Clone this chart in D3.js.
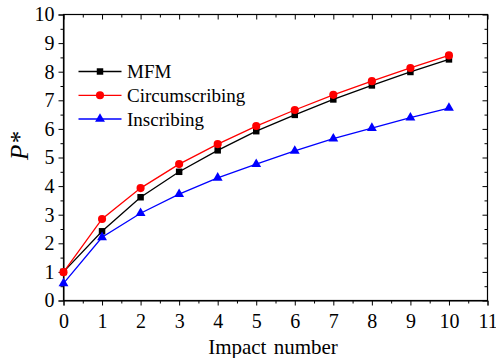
<!DOCTYPE html>
<html>
<head>
<meta charset="utf-8">
<script src="https://cdn.jsdelivr.net/npm/d3@7"></script>
<style>
  body { margin: 0; background: #fff; }
</style>
</head>
<body>
<div id="chart"></div>
<script>
"use strict";

// data
let impacts = [0, 1, 2, 3, 4, 5, 6, 7, 8, 9, 10];
let mfm = [1.0, 2.42, 3.61, 4.5, 5.25, 5.92, 6.49, 7.03, 7.52, 7.99, 8.43];
let circ = [0.99, 2.85, 3.93, 4.77, 5.47, 6.1, 6.66, 7.19, 7.67, 8.13, 8.57];
let insc = [0.6, 2.21, 3.05, 3.72, 4.29, 4.77, 5.23, 5.66, 6.03, 6.39, 6.73];
let xTicks = [0, 1, 2, 3, 4, 5, 6, 7, 8, 9, 10, 11];
let yTicks = [0, 1, 2, 3, 4, 5, 6, 7, 8, 9, 10];

let series = [
  { name: "MFM", values: mfm, color: "#000000", shape: d3.symbolSquare, size: 42 },
  { name: "Circumscribing", values: circ, color: "#ff0000", shape: d3.symbolCircle, size: 52 },
  { name: "Inscribing", values: insc, color: "#0000ff", shape: d3.symbolTriangle, size: 42 }
];

let serif = "'Liberation Serif', 'Times New Roman', Times, serif";
let width = 496;
let height = 358;
let mLeft = 63.5, mRight = 487.5, mTop = 14.5, mBottom = 300.5;

let svg = d3.select("#chart")
  .append("svg")
  .attr("width", width)
  .attr("height", height);

let x = d3.scaleLinear().domain([0, 11]).range([mLeft, mRight]);
let y = d3.scaleLinear().domain([0, 10]).range([mBottom, mTop]);

let half = d3.range(0.5, 11, 1);
let halfY = d3.range(0.5, 10, 1);

function styleLabels(g) {
  g.attr("font-family", null);
  g.selectAll("text")
    .style("font-family", serif)
    .style("font-size", "20px")
    .attr("fill", "#000");
}

// bottom axis, ticks outward
svg.append("g")
  .attr("transform", `translate(0,${mBottom})`)
  .call(d3.axisBottom(x).tickValues(half).tickSize(3).tickFormat(""))
  .call(g => g.select(".domain").remove());
svg.append("g")
  .attr("transform", `translate(0,${mBottom})`)
  .call(d3.axisBottom(x).tickValues(xTicks).tickSize(5).tickPadding(8).tickFormat(d3.format("d")))
  .call(styleLabels);

// left axis, ticks outward
svg.append("g")
  .attr("transform", `translate(${mLeft},0)`)
  .call(d3.axisLeft(y).tickValues(halfY).tickSize(3).tickFormat(""))
  .call(g => g.select(".domain").remove());
svg.append("g")
  .attr("transform", `translate(${mLeft},0)`)
  .call(d3.axisLeft(y).tickValues(yTicks).tickSize(5).tickPadding(4).tickFormat(d3.format("d")))
  .call(styleLabels);

// top and right axes, ticks inward, no labels
svg.append("g")
  .attr("transform", `translate(0,${mTop})`)
  .call(d3.axisBottom(x).tickValues(xTicks).tickSize(5).tickFormat(""))
  .call(g => g.select(".domain").remove());
svg.append("g")
  .attr("transform", `translate(0,${mTop})`)
  .call(d3.axisBottom(x).tickValues(half).tickSize(3).tickFormat(""))
  .call(g => g.select(".domain").remove());
svg.append("g")
  .attr("transform", `translate(${mRight},0)`)
  .call(d3.axisLeft(y).tickValues(yTicks).tickSize(5).tickFormat(""))
  .call(g => g.select(".domain").remove());
svg.append("g")
  .attr("transform", `translate(${mRight},0)`)
  .call(d3.axisLeft(y).tickValues(halfY).tickSize(3).tickFormat(""))
  .call(g => g.select(".domain").remove());

svg.append("rect")
  .attr("x", mLeft).attr("y", mTop)
  .attr("width", mRight - mLeft).attr("height", mBottom - mTop)
  .attr("fill", "none").attr("stroke", "#000").attr("stroke-width", 1.2);

// lines and markers
let line = d3.line()
  .x((d, i) => x(impacts[i]))
  .y(d => y(d));

series.forEach(s => {
  svg.append("path")
    .attr("d", line(s.values))
    .attr("fill", "none")
    .attr("stroke", s.color)
    .attr("stroke-width", 1.3);

  svg.selectAll(null)
    .data(s.values)
    .enter()
    .append("path")
    .attr("d", d3.symbol().type(s.shape).size(s.size))
    .attr("transform", (d, i) => `translate(${x(impacts[i])},${y(d)})`)
    .attr("fill", s.color);
});

// legend
let legendY = [71.5, 95.3, 119];
series.forEach((s, i) => {
  let ly = legendY[i];
  svg.append("line")
    .attr("x1", 78.5).attr("x2", 121.5)
    .attr("y1", ly).attr("y2", ly)
    .attr("stroke", s.color).attr("stroke-width", 1.3);
  svg.append("path")
    .attr("d", d3.symbol().type(s.shape).size(s.size))
    .attr("transform", `translate(100,${ly})`)
    .attr("fill", s.color);
  svg.append("text")
    .attr("x", 127).attr("y", ly + 6.5)
    .style("font-family", serif)
    .style("font-size", "19px")
    .text(s.name);
});

// axis titles
svg.append("text")
  .attr("x", 273)
  .attr("y", 354)
  .attr("text-anchor", "middle")
  .style("font-family", serif)
  .style("font-size", "21px")
  .style("word-spacing", "2px")
  .text("Impact number");

svg.append("text")
  .attr("transform", `translate(28,146) rotate(-90)`)
  .attr("text-anchor", "middle")
  .style("font-family", serif)
  .style("font-size", "25px")
  .style("font-style", "italic")
  .text("P*");
</script>
</body>
</html>
